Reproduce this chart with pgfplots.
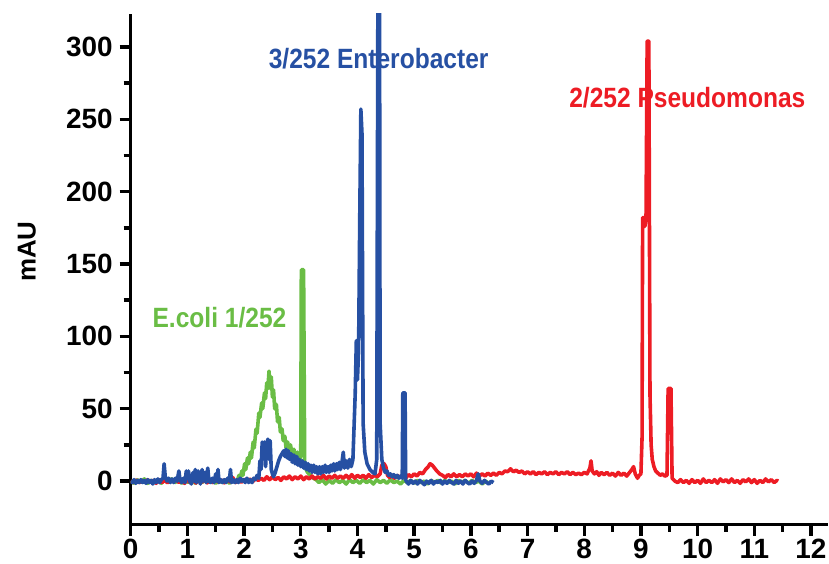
\documentclass[border=0pt]{standalone}
\usepackage{pgfplots}
\pgfplotsset{compat=1.18}
\usepackage{fontspec}
\setmainfont{Liberation Sans}
\newfontfamily\annot[FakeStretch=0.88]{Liberation Sans}
\definecolor{cblue}{RGB}{38,80,163}
\definecolor{cred}{RGB}{237,28,36}
\definecolor{cgreen}{RGB}{106,189,69}
\begin{document}
\begin{tikzpicture}
\begin{axis}[
  scale only axis, width=348.7bp, height=255.5bp,
  xmin=0, xmax=12.3, ymin=-30, ymax=323,
  axis lines*=left,
  axis line style={line width=1.7bp},
  every tick/.style={line width=1.7bp, black},
  tick align=outside,
  major tick length=5.5bp, minor tick length=3.5bp,
  xtick={0,1,...,12}, ytick={0,50,...,300},
  minor x tick num=1, minor y tick num=1,
  /pgf/number format/assume math mode=true,
  tick label style={font=\fontsize{14}{16}\selectfont\bfseries},
  xticklabel style={yshift=1.8bp},
  ylabel={mAU},
  ylabel style={font=\fontsize{13}{15}\selectfont\bfseries, at={(axis description cs:-0.149,0.534)}, anchor=center},
  clip=true,
]
\coordinate (bl) at (rel axis cs:0,0);
\coordinate (tr) at (rel axis cs:1,1);
% green: E. coli
\addplot[cgreen, line width=1.8bp, line join=round, no markers] coordinates {
(0,0)(0.06,-1.5)(0.12,1)(0.18,-1)(0.24,1.5)(0.30,-1.5)(0.36,0.5)(0.42,-1)(0.48,1)(0.54,-1.5)(0.60,1)(0.66,-1)(0.72,1.5)(0.78,-1)(0.84,0.5)(0.90,-1.5)(0.96,1)(1.02,-1)(1.08,1)(1.14,-1.5)(1.20,0.5)(1.26,-1)(1.32,1.5)(1.38,-1)(1.44,1)(1.50,-1.5)(1.56,0.5)(1.62,-1)(1.68,1)(1.74,-1.5)(1.80,0.5)(1.85,-1)
(1.88,0)(1.91,4)(1.93,1)(1.96,7)(1.98,4)(2.01,12)(2.03,8)(2.06,16)(2.08,12)(2.11,20)(2.13,16)(2.16,27)(2.18,23)(2.21,36)(2.23,33)(2.26,47)(2.28,44)(2.31,54)(2.33,50)(2.36,61)(2.38,57)(2.40,68)(2.42,64)(2.44,76)(2.46,64)(2.48,72)(2.50,58)(2.52,63)(2.54,50)(2.57,53)(2.59,41)(2.62,44)(2.64,34)(2.67,36)(2.69,28)(2.72,31)(2.74,23)(2.77,27)(2.79,20)(2.82,25)(2.85,17)(2.88,22)(2.91,15)(2.94,20)(2.97,13)(3.00,17)(3.01,146)(3.05,146)(3.07,10)(3.12,6)(3.17,4)(3.22,2)(3.27,1)
(3.32,-1)(3.38,1)(3.44,-2)(3.50,0.5)(3.56,-1.5)(3.62,1)(3.68,-1)(3.74,0.5)(3.80,-2)(3.86,1)(3.92,-1)(3.98,0.5)(4.04,-1.5)(4.10,1)(4.16,-1)(4.22,0.5)(4.28,-2)(4.34,1)(4.40,-1)(4.46,0.5)(4.52,-1.5)(4.58,1)(4.64,-1)(4.70,0)(4.76,-2)(4.82,0.5)(4.88,-1)(4.94,0.5)(5.00,-1.5)(5.06,0.5)(5.12,-1)(5.18,0)(5.24,-2)(5.30,0.5)(5.36,-1)(5.42,0.5)(5.48,-1.5)(5.54,0.5)(5.60,-1)(5.66,0)(5.72,-2)(5.78,0.5)(5.84,-1)(5.90,0.5)(5.96,-1.5)(6.02,0.5)(6.08,-1)(6.14,0)(6.20,-2)(6.26,0)(6.30,-1)
};
% red: Pseudomonas
\addplot[cred, line width=1.8bp, line join=round, no markers] coordinates {
(0,0)(0.05,-1)(0.1,0.8)(0.15,-1.2)(0.2,0.5)(0.25,-1)(0.3,1)(0.35,-0.8)(0.4,0.6)(0.45,-1.5)(0.5,1)(0.55,-1)(0.6,0.5)(0.65,-1.2)(0.7,1)(0.75,-0.5)(0.8,1.2)(0.85,-1)(0.9,0.5)(0.95,-1.5)(1.0,1)(1.05,-1)(1.1,0.8)(1.15,-1.3)(1.2,1)(1.25,-0.8)(1.3,0.6)(1.35,-1.2)(1.4,1)(1.45,-1)(1.5,1.5)(1.55,-0.8)(1.6,0.8)(1.65,-1.2)(1.7,1)(1.75,-0.5)(1.8,2.5)(1.85,-1)(1.9,1)(1.95,-0.8)(2.0,1.2)(2.05,0)(2.1,1.5)(2.15,-0.5)(2.2,2)(2.25,0.5)(2.3,2)(2.35,0.5)(2.4,3)(2.45,1)(2.5,3)(2.55,1)(2.6,2.5)(2.65,0.5)(2.7,3)(2.75,1.5)(2.8,3.5)(2.85,1)(2.9,3)(2.95,1.5)(3.0,3.5)(3.05,1)(3.1,3)(3.15,1.5)(3.2,3.5)(3.25,1.5)(3.3,3)(3.35,2)(3.4,4)(3.45,1.5)(3.5,3.5)(3.55,2)(3.6,4)(3.65,2)(3.7,3.5)(3.75,2)(3.8,4)(3.85,2)(3.9,4.5)(3.95,2)(4.0,4)(4.05,2.5)(4.1,4)(4.15,2)(4.2,4.5)(4.25,2.5)(4.3,4)(4.35,3)(4.4,5)(4.43,11)(4.47,12)(4.5,10)(4.53,4)(4.57,2.5)(4.6,4)(4.65,2)(4.7,4)(4.75,2.5)(4.8,4)(4.85,2)(4.9,4.5)(4.95,3)(5.0,5)(5.05,3.5)(5.1,6)(5.15,5)(5.2,8)(5.25,10)(5.28,12)(5.32,11)(5.36,9)(5.4,7)(5.45,5)(5.5,4)(5.55,2.5)(5.6,4.5)(5.65,3)(5.7,5)(5.75,3)(5.8,4.5)(5.85,3)(5.9,5)(5.95,3.5)(6.0,5)(6.05,3)(6.1,5.5)(6.15,3.5)(6.2,5)(6.25,3.5)(6.3,5.5)(6.35,4)(6.4,5.5)(6.45,4)(6.5,6)(6.55,5)(6.6,7)(6.65,6.5)(6.7,8.5)(6.75,6.5)(6.8,7.5)(6.85,6)(6.9,7)(6.95,5)(7.0,6.5)(7.05,5)(7.1,6.5)(7.15,4.5)(7.2,6)(7.25,5)(7.3,6.5)(7.35,4.5)(7.4,6)(7.45,5)(7.5,6.5)(7.55,4.5)(7.6,6)(7.65,5)(7.7,6.5)(7.75,4.5)(7.8,6)(7.85,4.5)(7.9,5.5)(7.95,4.5)(8.0,6)(8.05,5)(8.1,9)(8.12,14)(8.14,7)(8.18,5)(8.22,6.5)(8.26,4)(8.3,6)(8.35,4.5)(8.4,6)(8.45,4)(8.5,5.5)(8.55,3.5)(8.6,6)(8.65,4)(8.7,5.5)(8.75,3.5)(8.8,6)(8.84,8)(8.87,10)(8.9,5)(8.94,2)(8.97,4)(9.0,5)(9.02,30)(9.03,182)(9.05,182)(9.07,176)(9.09,182)(9.11,304)(9.14,304)(9.16,60)(9.18,25)(9.2,15)(9.23,10)(9.26,7)(9.3,5.5)(9.34,4)(9.38,5)(9.42,3.5)(9.46,4)(9.48,64)(9.53,64)(9.55,2)(9.6,0)(9.65,-1)(9.7,1)(9.75,-1)(9.8,0.5)(9.85,-1.5)(9.9,1)(9.95,-1)(10.0,0.5)(10.05,-1.5)(10.1,1.5)(10.15,-1)(10.2,0.5)(10.25,-1)(10.3,1)(10.35,-1.5)(10.4,1.5)(10.45,-0.5)(10.5,1)(10.55,-1)(10.6,1.5)(10.65,-1)(10.7,0.5)(10.75,-1.5)(10.8,1)(10.85,-0.5)(10.9,1.5)(10.95,-1)(11.0,1)(11.05,-1.5)(11.1,0.5)(11.15,-1)(11.2,1.5)(11.25,-0.5)(11.3,1)(11.35,-1)(11.4,0.5)(11.42,0)
};
% blue: Enterobacter
\addplot[cblue, line width=1.8bp, line join=round, no markers] coordinates {
(0.00,0)(0.03,-1)(0.06,1)(0.09,-1.5)(0.12,0.5)(0.15,-1)(0.18,1)(0.21,-1)(0.24,0.5)(0.27,-1.5)(0.30,1)(0.33,-1)(0.36,0.5)(0.39,-2)(0.42,1)(0.45,-1)(0.48,1.5)(0.51,-1)(0.54,1)(0.57,2)(0.59,12)(0.61,3)(0.64,0)(0.67,2)(0.70,-1)(0.73,1.5)(0.76,-1)(0.79,2)(0.82,0)(0.85,7)(0.87,1)(0.90,-1)(0.93,2)(0.96,-1)(0.98,7)(1.00,2)(1.02,7)(1.04,0)(1.07,-2)(1.10,6)(1.12,0)(1.14,8)(1.16,-1)(1.19,7)(1.21,1)(1.23,-2)(1.26,8)(1.28,0)(1.31,6)(1.33,-1)(1.36,9)(1.38,0)(1.41,-1)(1.44,2)(1.47,-1)(1.50,5)(1.52,0)(1.54,8)(1.56,-1)(1.59,1)(1.62,-1)(1.65,1)(1.68,-1)(1.71,2)(1.74,0)(1.76,8)(1.78,-1)(1.81,1)(1.84,-1)(1.87,1)(1.90,-1)(1.93,2)(1.96,0)(1.99,1)(2.02,-1)(2.05,2)(2.08,-1)(2.11,1)(2.14,-1)(2.17,2)
(2.20,1)(2.23,4)(2.26,2)(2.28,14)(2.30,8)(2.32,27)(2.34,20)(2.36,27)(2.38,10)(2.40,25)(2.42,29)(2.44,15)(2.46,28)(2.48,8)(2.50,5)(2.52,3)(2.55,6)(2.58,10)(2.61,14)(2.64,17)(2.67,19)(2.70,21)(2.72,17)(2.74,22)(2.76,16)(2.78,21)(2.80,15)(2.83,19)(2.85,13)(2.88,18)(2.90,12)(2.93,17)(2.95,11)(2.98,15)(3.00,10)(3.03,14)(3.05,9)(3.08,13)(3.10,8)(3.13,12)(3.15,7)(3.18,11)(3.20,6)(3.23,11)(3.25,6)(3.28,10)(3.30,5)(3.33,10)(3.35,5)(3.38,10)(3.40,6)(3.43,11)(3.45,6)(3.48,10)(3.50,6)(3.53,11)(3.55,7)(3.58,12)(3.60,7)(3.63,12)(3.65,8)(3.68,13)(3.70,8)(3.73,14)(3.75,20)(3.77,9)(3.80,14)(3.83,9)(3.86,15)(3.89,10)(3.92,15)
(3.96,60)(3.98,97)(4.00,70)(4.02,90)(4.04,180)(4.06,257)(4.08,240)(4.10,40)(4.13,20)(4.17,12)(4.22,8)(4.27,6)(4.31,5)(4.34,15)(4.36,330)(4.39,330)(4.40,40)(4.43,15)(4.46,9)(4.49,6)(4.52,7)(4.55,4)(4.58,5)(4.61,3)(4.64,4.5)(4.67,2.5)(4.70,4)(4.73,2)(4.76,3.5)(4.79,2)(4.80,61)(4.84,61)(4.85,1)
(4.86,0)(4.90,-2)(4.94,0.5)(4.98,-1.5)(5.02,0)(5.06,-2)(5.10,0.5)(5.14,-1)(5.18,-2.5)(5.22,0)(5.26,-1.5)(5.30,0.5)(5.34,-2)(5.38,0)(5.42,-1)(5.46,0.5)(5.50,-2)(5.54,0)(5.58,-1.5)(5.62,0.5)(5.66,-1)(5.70,-2)(5.74,0.5)(5.78,-1.5)(5.82,0)(5.86,-2)(5.90,0.5)(5.94,-1)(5.98,-2)(6.02,0)(6.06,-1.5)(6.10,0.5)(6.13,5)(6.16,0)(6.20,-1.5)(6.24,0.5)(6.28,-1)(6.32,-2)(6.36,0)(6.40,-1)
};
\node[anchor=west, inner sep=0pt, text=cblue, font=\annot\bfseries\fontsize{14}{16}\selectfont] at (axis cs:2.43,292) {3/252 Enterobacter};
\node[anchor=west, inner sep=0pt, text=cred, font=\annot\bfseries\fontsize{14}{16}\selectfont] at (axis cs:7.73,265) {2/252 Pseudomonas};
\node[anchor=west, inner sep=0pt, text=cgreen, font=\annot\bfseries\fontsize{14}{16}\selectfont] at (axis cs:0.38,113) {E.coli 1/252};
\end{axis}
\pgfresetboundingbox
\path[use as bounding box] ([shift={(-65.35bp,-19.5bp)}]bl) rectangle ([shift={(0.5bp,6.8bp)}]tr);
\end{tikzpicture}
\end{document}
